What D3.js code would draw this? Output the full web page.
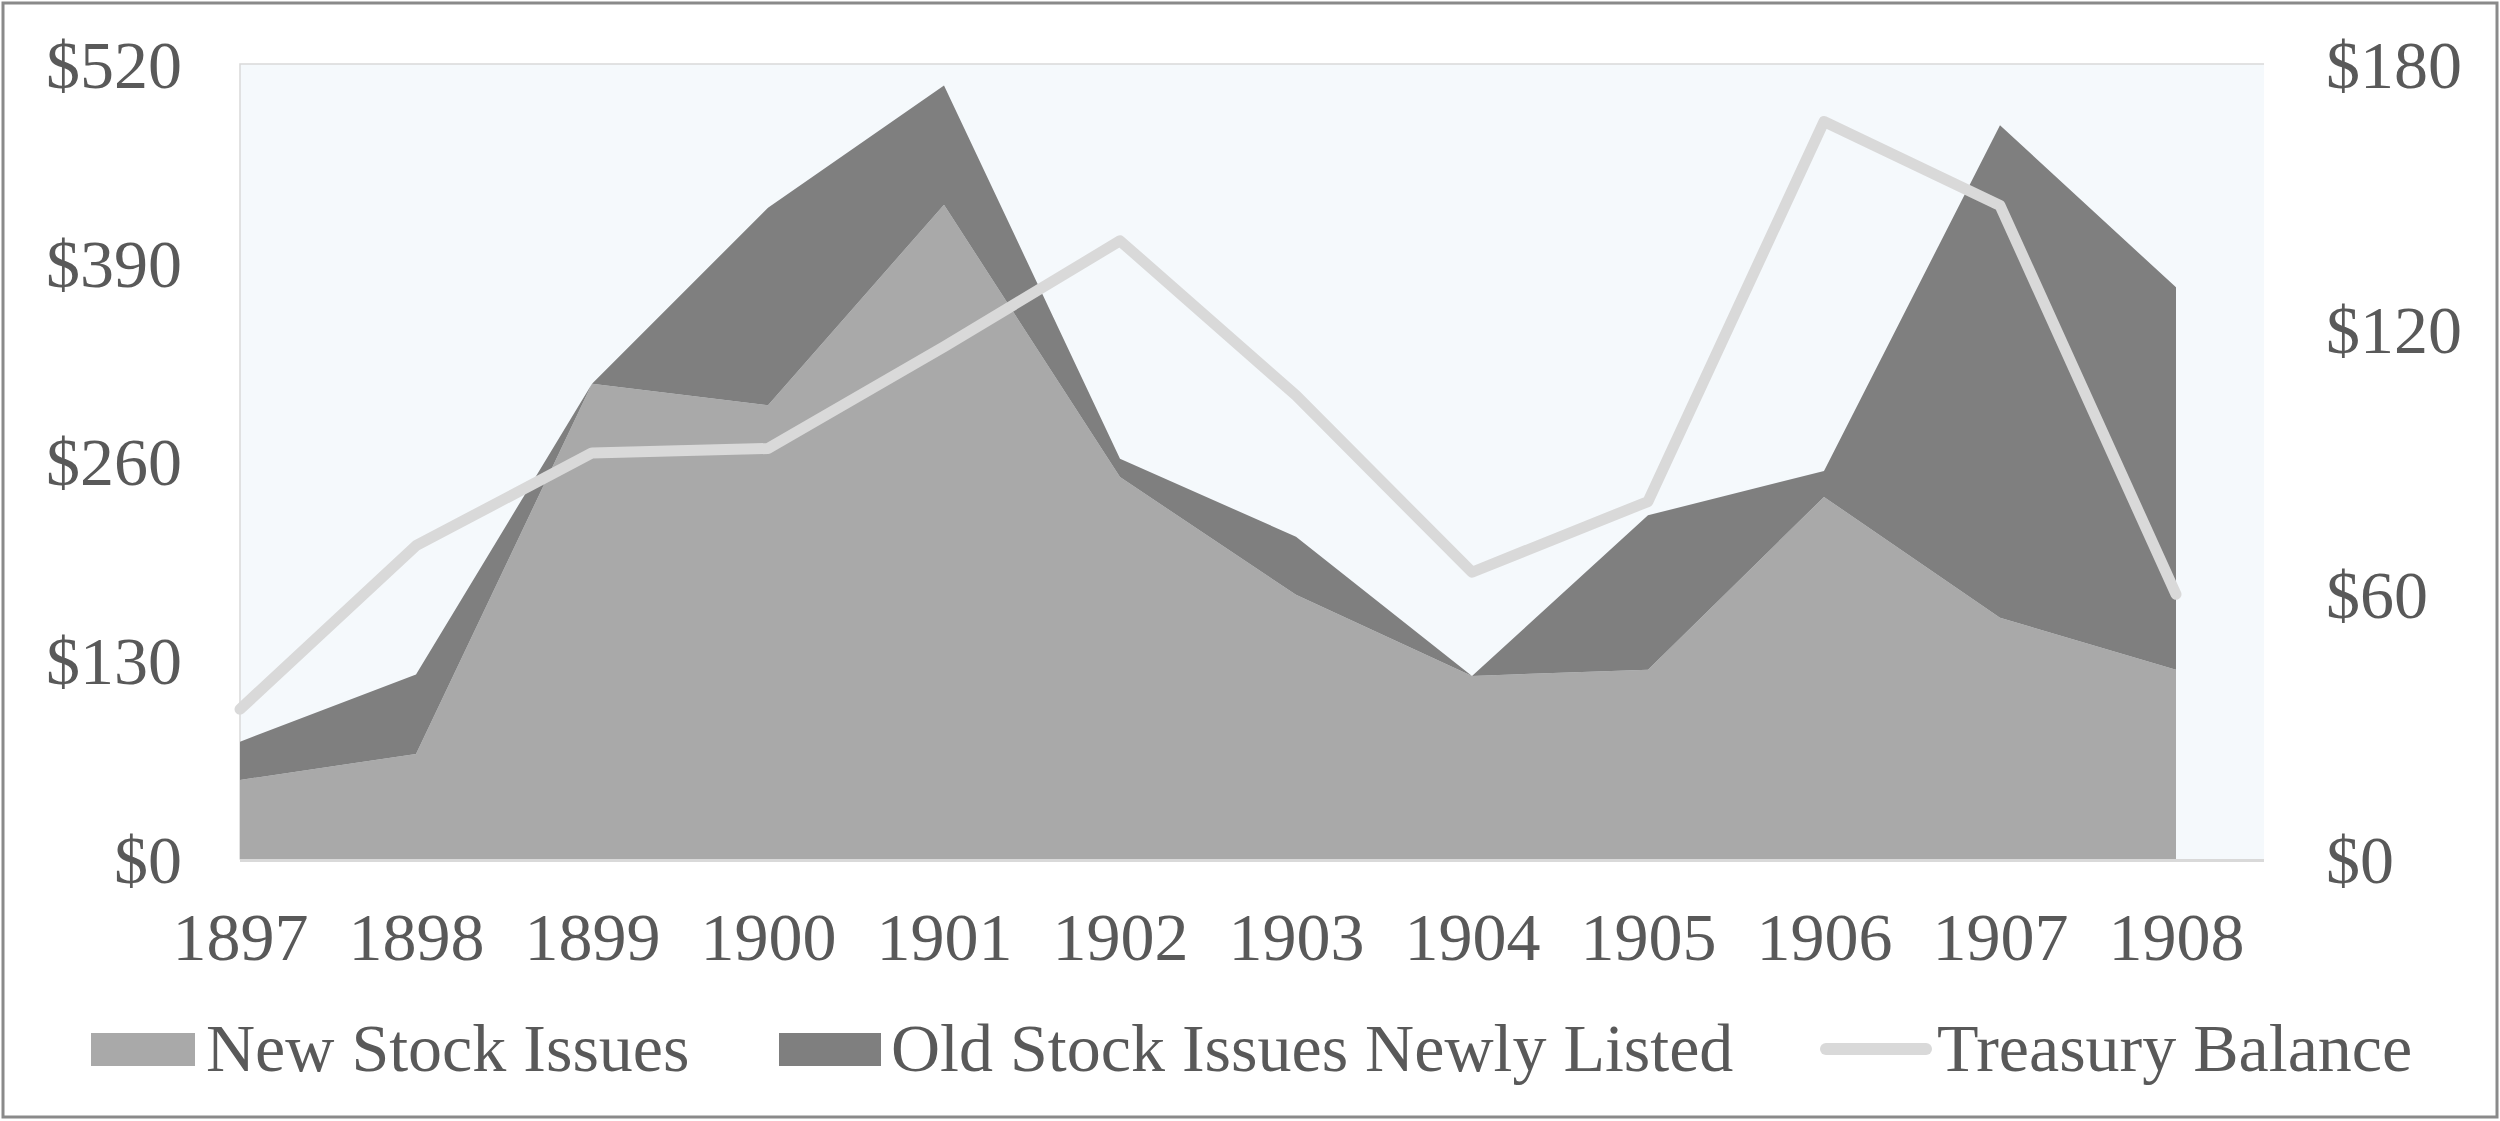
<!DOCTYPE html>
<html>
<head>
<meta charset="utf-8">
<script src="https://cdn.jsdelivr.net/npm/d3@7"></script>
<style>
  body { margin: 0; background: #fff; }
  svg text { font-family: "Liberation Serif", "DejaVu Serif", serif; fill: #595959; }
</style>
</head>
<body>
<div id="chart"></div>
<script>
const years = ['1897', '1898', '1899', '1900', '1901', '1902', '1903', '1904', '1905', '1906', '1907', '1908'];
const newStock = [52, 69, 311, 297, 428, 250, 173, 120, 124, 237, 158, 124];
const oldStock = [25, 52, 0, 129, 78, 12, 38, 0, 101, 17, 322, 250];
const treasury = [34, 71, 92, 93, 116, 140, 105, 65, 81, 167, 148, 60];
const leftTicks = [0, 130, 260, 390, 520];
const rightTicks = [0, 60, 120, 180];
const seriesNames = ['New Stock Issues', 'Old Stock Issues Newly Listed', 'Treasury Balance'];

const width = 2500;
const height = 1121;
const plot = { left: 240, right: 2264, top: 64, bottom: 859.5 };
const lastX = 2176;

const svg = d3.select('#chart')
  .append('svg')
  .attr('width', width)
  .attr('height', height)
  .attr('viewBox', [0, 0, width, height]);

// outer frame
svg.append('rect')
  .attr('x', 3).attr('y', 3)
  .attr('width', width - 6).attr('height', height - 7)
  .attr('fill', '#fff')
  .attr('stroke', '#8a8a8a')
  .attr('stroke-width', 3);

// plot background
svg.append('rect')
  .attr('x', plot.left).attr('y', plot.top)
  .attr('width', plot.right - plot.left).attr('height', plot.bottom - plot.top)
  .attr('fill', '#f5f9fc');
svg.append('path')
  .attr('d', `M${plot.left},${plot.bottom}V${plot.top}H${plot.right}`)
  .attr('fill', 'none')
  .attr('stroke', '#d9d9d9')
  .attr('stroke-width', 1.5);

const x = d3.scalePoint(years, [plot.left, lastX]);
const yLeft = d3.scaleLinear([0, 520], [plot.bottom, plot.top]);
const yRight = d3.scaleLinear([0, 180], [plot.bottom, plot.top]);

const table = years.map((yr, i) => ({ year: yr, newStock: newStock[i], oldStock: oldStock[i] }));
const stacked = d3.stack().keys(['newStock', 'oldStock'])(table);
const areaColors = ['#a9a9a9', '#7f7f7f'];

const area = d3.area()
  .x(d => x(d.data.year))
  .y0(d => yLeft(d[0]))
  .y1(d => yLeft(d[1]));

svg.append('g')
  .selectAll('path')
  .data(stacked)
  .join('path')
  .attr('fill', (d, i) => areaColors[i])
  .attr('d', area);

// bottom axis line
svg.append('line')
  .attr('x1', plot.left).attr('x2', plot.right)
  .attr('y1', plot.bottom + 1).attr('y2', plot.bottom + 1)
  .attr('stroke', '#d9d9d9')
  .attr('stroke-width', 3);

// treasury line
const line = d3.line()
  .x((d, i) => x(years[i]))
  .y(d => yRight(d));

svg.append('path')
  .datum(treasury)
  .attr('fill', 'none')
  .attr('stroke', '#d9d9d9')
  .attr('stroke-width', 11)
  .attr('stroke-linejoin', 'round')
  .attr('stroke-linecap', 'round')
  .attr('d', line);

// axes
const fontSize = 68;

const gLeft = svg.append('g')
  .attr('transform', `translate(${plot.left},0)`)
  .call(d3.axisLeft(yLeft).tickValues(leftTicks).tickFormat(d => '$' + d).tickSize(0).tickPadding(58));

const gRight = svg.append('g')
  .attr('transform', `translate(${plot.right},0)`)
  .call(d3.axisRight(yRight).tickValues(rightTicks).tickFormat(d => '$' + d).tickSize(0).tickPadding(62));

const gBottom = svg.append('g')
  .attr('transform', `translate(0,${plot.bottom})`)
  .call(d3.axisBottom(x).tickSize(0).tickPadding(52));

[gLeft, gRight, gBottom].forEach(g => {
  g.select('.domain').remove();
  g.selectAll('text')
    .attr('font-family', null)
    .style('font-size', fontSize + 'px')
    .style('fill', '#595959');
});
gLeft.selectAll('text').attr('dy', '0.34em');
gRight.selectAll('text').attr('dy', '0.34em');

// legend
const legend = svg.append('g');
const legendY = 1050;

legend.append('rect')
  .attr('x', 91).attr('y', legendY - 17)
  .attr('width', 104).attr('height', 33)
  .attr('fill', areaColors[0]);
legend.append('text')
  .attr('x', 206).attr('y', 1071)
  .style('font-size', fontSize + 'px')
  .text(seriesNames[0]);

legend.append('rect')
  .attr('x', 779).attr('y', legendY - 17)
  .attr('width', 102).attr('height', 33)
  .attr('fill', areaColors[1]);
legend.append('text')
  .attr('x', 891).attr('y', 1071)
  .style('font-size', fontSize + 'px')
  .text(seriesNames[1]);

legend.append('line')
  .attr('x1', 1826).attr('x2', 1926)
  .attr('y1', legendY - 1).attr('y2', legendY - 1)
  .attr('stroke', '#d9d9d9')
  .attr('stroke-width', 12)
  .attr('stroke-linecap', 'round');
legend.append('text')
  .attr('x', 1937).attr('y', 1071)
  .style('font-size', fontSize + 'px')
  .text(seriesNames[2]);
</script>
</body>
</html>
